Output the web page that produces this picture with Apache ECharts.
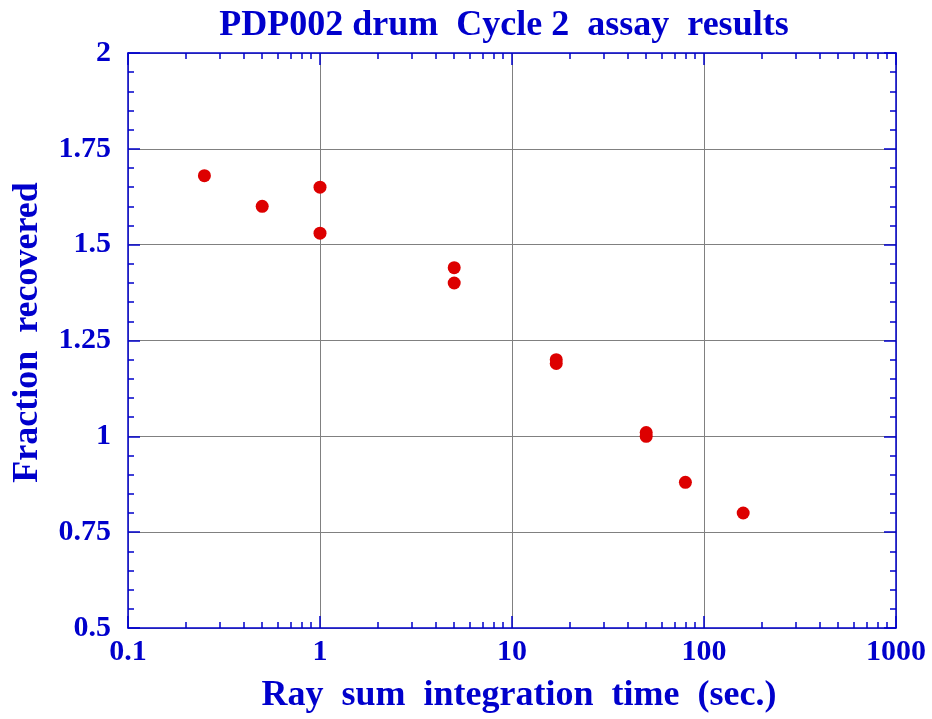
<!DOCTYPE html>
<html><head><meta charset="utf-8">
<script src="https://cdn.jsdelivr.net/npm/echarts@6/dist/echarts.min.js"></script>
<style>html,body{margin:0;padding:0;background:#fff}#c{width:932px;height:719px}</style>
</head><body><div id="c"></div>
<script>
const titleText = 'PDP002 drum  Cycle 2  assay  results';
const xName = 'Ray  sum  integration  time  (sec.)';
const yName = 'Fraction  recovered';
const timeSec = [0.25, 0.5, 1, 1, 5, 5, 17, 17, 50, 50, 80, 160];
const fraction = [1.68, 1.60, 1.65, 1.53, 1.44, 1.40, 1.20, 1.19, 1.01, 1.00, 0.88, 0.80];
const xMinorTicks = [];
[0.1, 1, 10, 100].forEach(d => { for (let k = 2; k <= 9; k++) xMinorTicks.push(+(d * k).toPrecision(3)); });

const blue = '#0000cc';
const font = '"Liberation Serif", "Times New Roman", serif';
const chart = echarts.init(document.getElementById('c'));

function xAx(pos, major, labels) {
  return {
    type: 'log', logBase: 10, min: 0.1, max: 1000, position: pos,
    axisLine: { show: major, lineStyle: { color: blue, width: 1.5 } },
    axisTick: major ? { show: true, inside: true, length: 12, lineStyle: { color: blue, width: 1.5 } }
                    : { show: true, inside: true, length: 6, customValues: xMinorTicks, lineStyle: { color: blue, width: 1.5 } },
    axisLabel: labels ? { show: true, color: blue, fontFamily: font, fontWeight: 'bold', fontSize: 30, margin: 9,
                          formatter: v => String(+(+v).toPrecision(6)) } : { show: false },
    splitLine: { show: labels, lineStyle: { color: '#808080', width: 1 } },
    minorTick: { show: false }, minorSplitLine: { show: false },
    name: labels ? xName : '', nameLocation: 'middle', nameGap: 50,
    nameTextStyle: { color: blue, fontFamily: font, fontWeight: 'bold', fontSize: 36, padding: [0, 0, 0, 14] }
  };
}
function yAx(pos, labels) {
  return {
    type: 'value', min: 0.5, max: 2, interval: 0.25, position: pos,
    axisLine: { show: true, lineStyle: { color: blue, width: 1.5 } },
    axisTick: { show: true, inside: true, length: 12, lineStyle: { color: blue, width: 1.5 } },
    minorTick: { show: true, splitNumber: 5, length: 6, lineStyle: { color: blue, width: 1.5 } },
    axisLabel: labels ? { show: true, color: blue, fontFamily: font, fontWeight: 'bold', fontSize: 30, margin: 17 } : { show: false },
    splitLine: { show: labels, lineStyle: { color: '#808080', width: 1 } },
    name: labels ? yName : '', nameLocation: 'middle', nameGap: 82, nameRotate: 90,
    nameTextStyle: { color: blue, fontFamily: font, fontWeight: 'bold', fontSize: 36, padding: [0, 0, 0, 16] }
  };
}

chart.setOption({
  animation: false,
  backgroundColor: '#fff',
  title: { text: titleText, left: 499, top: 3, textAlign: 'center',
    textStyle: { color: blue, fontFamily: font, fontWeight: 'bold', fontSize: 36 } },
  grid: { left: 128, top: 53, right: 36, bottom: 90, containLabel: false },
  xAxis: [xAx('bottom', true, true), xAx('bottom', false, false), xAx('top', true, false), xAx('top', false, false)],
  yAxis: [yAx('left', true), yAx('right', false)],
  series: [{
    type: 'scatter', xAxisIndex: 0, yAxisIndex: 0,
    data: timeSec.map((t, i) => [t, fraction[i]]),
    symbol: 'circle', symbolSize: 13,
    itemStyle: { color: '#dd0000', opacity: 1 }
  }]
});
</script></body></html>
